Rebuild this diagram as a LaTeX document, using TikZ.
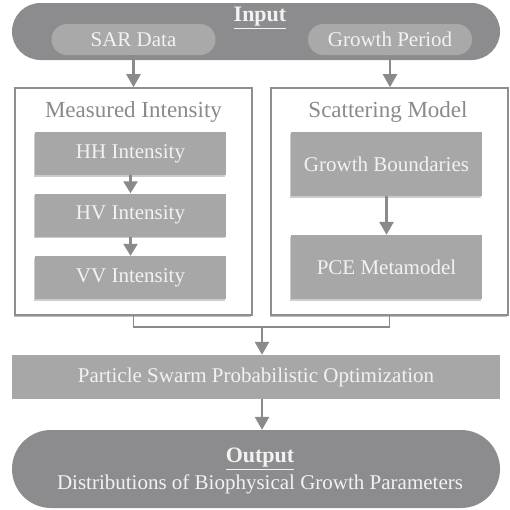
\documentclass[tikz,border=0pt]{standalone}
\usepackage{fontspec}
\setmainfont{Liberation Serif}
\usetikzlibrary{arrows.meta,shadows}
\definecolor{pilldark}{HTML}{8C8C8E}
\definecolor{pilllight}{HTML}{A9A9AA}
\definecolor{boxgray}{HTML}{A7A7A7}
\definecolor{framegray}{HTML}{8E8E8E}
\definecolor{linegray}{HTML}{8A8A8A}
\definecolor{softwhite}{HTML}{F2F2F2}
\tikzset{
  bigpill/.style={fill=pilldark, draw=none, minimum width=488pt, text=softwhite},
  smallpill/.style={fill=pilllight, draw=none, minimum width=164pt, minimum height=31pt,
    rounded corners=15.5pt, text=softwhite, font=\fontsize{21}{25}\selectfont},
  framebox/.style={fill=white, draw=framegray, line width=1.6pt, minimum width=237pt,
    minimum height=227pt, drop shadow={shadow xshift=-1.5pt, shadow yshift=-2pt, opacity=0.25, fill=black}},
  graybox/.style={fill=boxgray, draw=none, minimum width=191pt, text=softwhite,
    font=\fontsize{21}{25}\selectfont,
    drop shadow={shadow xshift=-1pt, shadow yshift=-1.5pt, opacity=0.2, fill=black}},
  boxtitle/.style={text=linegray, font=\fontsize{23}{27}\selectfont},
  flow/.style={draw=linegray, line width=2.6pt, -{Triangle[width=14pt,length=13pt]}},
  smallflow/.style={draw=linegray, line width=2.4pt, -{Triangle[width=14pt,length=12pt]}},
  joinline/.style={draw=linegray, line width=1.8pt},
}
\begin{document}
\begin{tikzpicture}[x=1pt,y=-1pt]
  \useasboundingbox (0,0) rectangle (510,509);

  % input stage
  \node[bigpill, minimum height=57pt, rounded corners=28.5pt] (input) at (256,31.5) {};
  \node[text=softwhite, font=\bfseries\fontsize{22}{26}\selectfont] (inlabel) at (260,18) {\underline{Input}};
  \node[smallpill] (sar) at (133.5,39.5) {SAR Data};
  \node[smallpill] (period) at (390,39.5) {Growth Period};

  % measured intensity block
  \node[framebox] (meas) at (133.5,201.5) {};
  \node[boxtitle] (meastitle) at (133.5,112) {Measured Intensity};
  \node[graybox, minimum height=43pt] (hh) at (130.5,153.5) {HH Intensity};
  \node[graybox, minimum height=43pt] (hv) at (130.5,215) {HV Intensity};
  \node[graybox, minimum height=43pt] (vv) at (130.5,277.5) {VV Intensity};

  % scattering model block
  \node[framebox] (scat) at (389.5,201.5) {};
  \node[boxtitle] (scattitle) at (388,112) {Scattering Model};
  \node[graybox, minimum height=64pt] (bounds) at (386.5,164) {Growth Boundaries};
  \node[graybox, minimum height=64pt] (pce) at (386.5,267) {PCE Metamodel};

  % optimisation and output
  \node[fill=boxgray, minimum width=488pt, minimum height=44pt, text=softwhite,
        font=\fontsize{21}{25}\selectfont] (pso) at (256,377) {Particle Swarm Probabilistic Optimization};
  \node[bigpill, minimum height=78pt, rounded corners=39pt] (output) at (256,469) {};
  \node[text=softwhite, font=\bfseries\fontsize{22}{26}\selectfont] (outlabel) at (260,459) {\underline{Output}};
  \node[text=softwhite, font=\fontsize{21}{25}\selectfont] (outtext) at (260,484) {Distributions of Biophysical Growth Parameters};

  % connectors
  \draw[flow] (sar.south) -- (sar.south |- meas.north);
  \draw[flow] (period.south) -- (period.south |- scat.north);
  \draw[smallflow] (hh.south) -- (hv.north);
  \draw[smallflow] (hv.south) -- (vv.north);
  \draw[flow] (bounds.south) -- (pce.north);
  \coordinate (join) at (262,327);
  \draw[joinline] (meas.south) |- (join) -| (scat.south);
  \draw[flow] (join) -- (join |- pso.north);
  \draw[flow] (pso.south -| join) -- (join |- output.north);
\end{tikzpicture}
\end{document}
